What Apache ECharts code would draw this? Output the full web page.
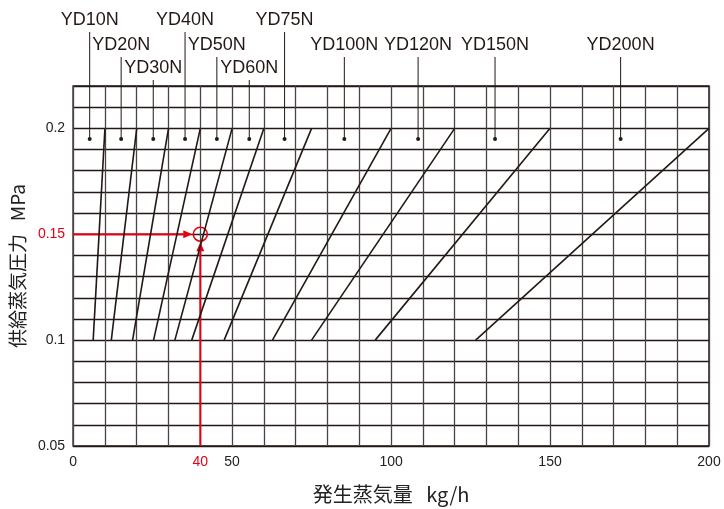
<!DOCTYPE html>
<html><head><meta charset="utf-8">
<script src="https://cdn.jsdelivr.net/npm/echarts@6/dist/echarts.min.js"></script>
<style>html,body{margin:0;padding:0;background:#fff}#c{width:724px;height:509px}</style>
</head><body><div id="c"></div>
<script>
// ---- data ----
const models = ['YD10N','YD20N','YD30N','YD40N','YD50N','YD60N','YD75N','YD100N','YD120N','YD150N','YD200N'];
const flowAtLow = [6.3, 12, 18.7, 25.3, 32, 37.3, 47.5, 62.7, 75, 95, 126.6];   // kg/h at 0.1 MPa
const flowAtHigh = [10, 20, 30, 40, 50, 60, 75, 100, 120, 150, 200];            // kg/h at 0.2 MPa
const pressureLow = 0.1, pressureHigh = 0.2;
const markerFlow = [5.2, 15.1, 25.2, 35.2, 45.2, 55.4, 66.5, 85.3, 108.5, 132.7, 172.2];
const markerPressure = 0.195;
const exampleFlow = 40, examplePressure = 0.15;
const xTicks = [0, 40, 50, 100, 150, 200];
const yTicks = [0.05, 0.1, 0.15, 0.2];

// ---- chart ----
const RED = '#e60012', INK = '#231815';
const FONT = '"Liberation Sans", Arial, sans-serif';
const JFONT = '"Noto Sans CJK JP", sans-serif';
const tiers = [0,1,2,0,1,2,0,1,1,1,1];
const tierY = [20, 45, 68];

const series = [];
models.forEach((m, i) => {
  series.push({
    type: 'line', name: m, data: [[flowAtLow[i], pressureLow], [flowAtHigh[i], pressureHigh]],
    symbol: 'none', lineStyle: { color: INK, width: 1.6 }, silent: true, animation: false
  });
});
series.push({
  type: 'custom', animation: false, silent: true,
  data: markerFlow.map((f, i) => [f, markerPressure]),
  renderItem(params, api) {
    const p = api.coord([api.value(0), api.value(1)]);
    const i = params.dataIndex;
    const ly = tierY[tiers[i]];
    return { type: 'group', children: [
      { type: 'line', shape: { x1: p[0], y1: ly + 12, x2: p[0], y2: p[1] }, style: { stroke: INK, lineWidth: 1 } },
      { type: 'circle', shape: { cx: p[0], cy: p[1], r: 2 }, style: { fill: INK } },
      { type: 'text', x: p[0], y: ly, style: { text: models[i], fill: INK, font: '18px ' + FONT, align: 'center', verticalAlign: 'middle' } }
    ]};
  }
});
series.push({
  type: 'custom', animation: false, silent: true,
  data: [[exampleFlow, examplePressure]],
  renderItem(params, api) {
    const c = api.coord([api.value(0), api.value(1)]);
    const o = api.coord([0, 0.05]);
    const r = 7, ah = 9, aw = 4;
    const ex = c[0] - r - 1, ey = c[1] + r + 1;
    return { type: 'group', children: [
      { type: 'line', shape: { x1: o[0], y1: c[1], x2: ex - ah + 1, y2: c[1] }, style: { stroke: RED, lineWidth: 2 } },
      { type: 'polygon', shape: { points: [[ex, c[1]], [ex - ah, c[1] - aw], [ex - ah, c[1] + aw]] }, style: { fill: RED } },
      { type: 'line', shape: { x1: c[0], y1: o[1], x2: c[0], y2: ey + ah - 1 }, style: { stroke: RED, lineWidth: 2 } },
      { type: 'polygon', shape: { points: [[c[0], ey], [c[0] - aw, ey + ah], [c[0] + aw, ey + ah]] }, style: { fill: RED } },
      { type: 'circle', shape: { cx: c[0], cy: c[1], r: r }, style: { fill: 'none', stroke: RED, lineWidth: 1.6 } }
    ]};
  }
});

const chart = echarts.init(document.getElementById('c'), null, { renderer: 'canvas' });
chart.setOption({
  animation: false,
  backgroundColor: '#fff',
  grid: { left: 72, right: 15, top: 86, bottom: 62, show: true, borderColor: INK, borderWidth: 1.5 },
  xAxis: {
    type: 'value', min: 0, max: 200, interval: 10,
    axisLine: { show: false }, axisTick: { show: false },
    splitLine: { show: true, lineStyle: { color: '#4a4446', width: 1.3 } },
    axisLabel: {
      margin: 9, fontSize: 14, color: '#222', fontFamily: FONT,
      formatter: v => (xTicks.indexOf(v) < 0 ? '' : (v === exampleFlow ? '{r|' + v + '}' : String(v))),
      rich: { r: { color: RED, fontSize: 14, fontFamily: FONT } }
    },
    name: '発生蒸気量   kg/h', nameLocation: 'middle', nameGap: 38,
    nameTextStyle: { fontSize: 20, color: '#222', fontFamily: JFONT }
  },
  yAxis: {
    type: 'value', min: 0.05, max: 0.22, interval: 0.01,
    axisLine: { show: false }, axisTick: { show: false },
    splitLine: { show: true, lineStyle: { color: INK, width: 1.3 } },
    axisLabel: {
      margin: 8, fontSize: 14, color: '#222', fontFamily: FONT,
      formatter: v => {
        const r = Math.round(v * 100) / 100;
        if (!yTicks.some(t => Math.abs(t - r) < 1e-9)) return '';
        return Math.abs(r - examplePressure) < 1e-9 ? '{r|' + r + '}' : String(r);
      },
      rich: { r: { color: RED, fontSize: 14, fontFamily: FONT } }
    },
    name: '供給蒸気圧力   MPa', nameLocation: 'middle', nameGap: 40, nameRotate: 90,
    nameTextStyle: { fontSize: 19, color: '#222', fontFamily: JFONT }
  },
  series
});
</script></body></html>
